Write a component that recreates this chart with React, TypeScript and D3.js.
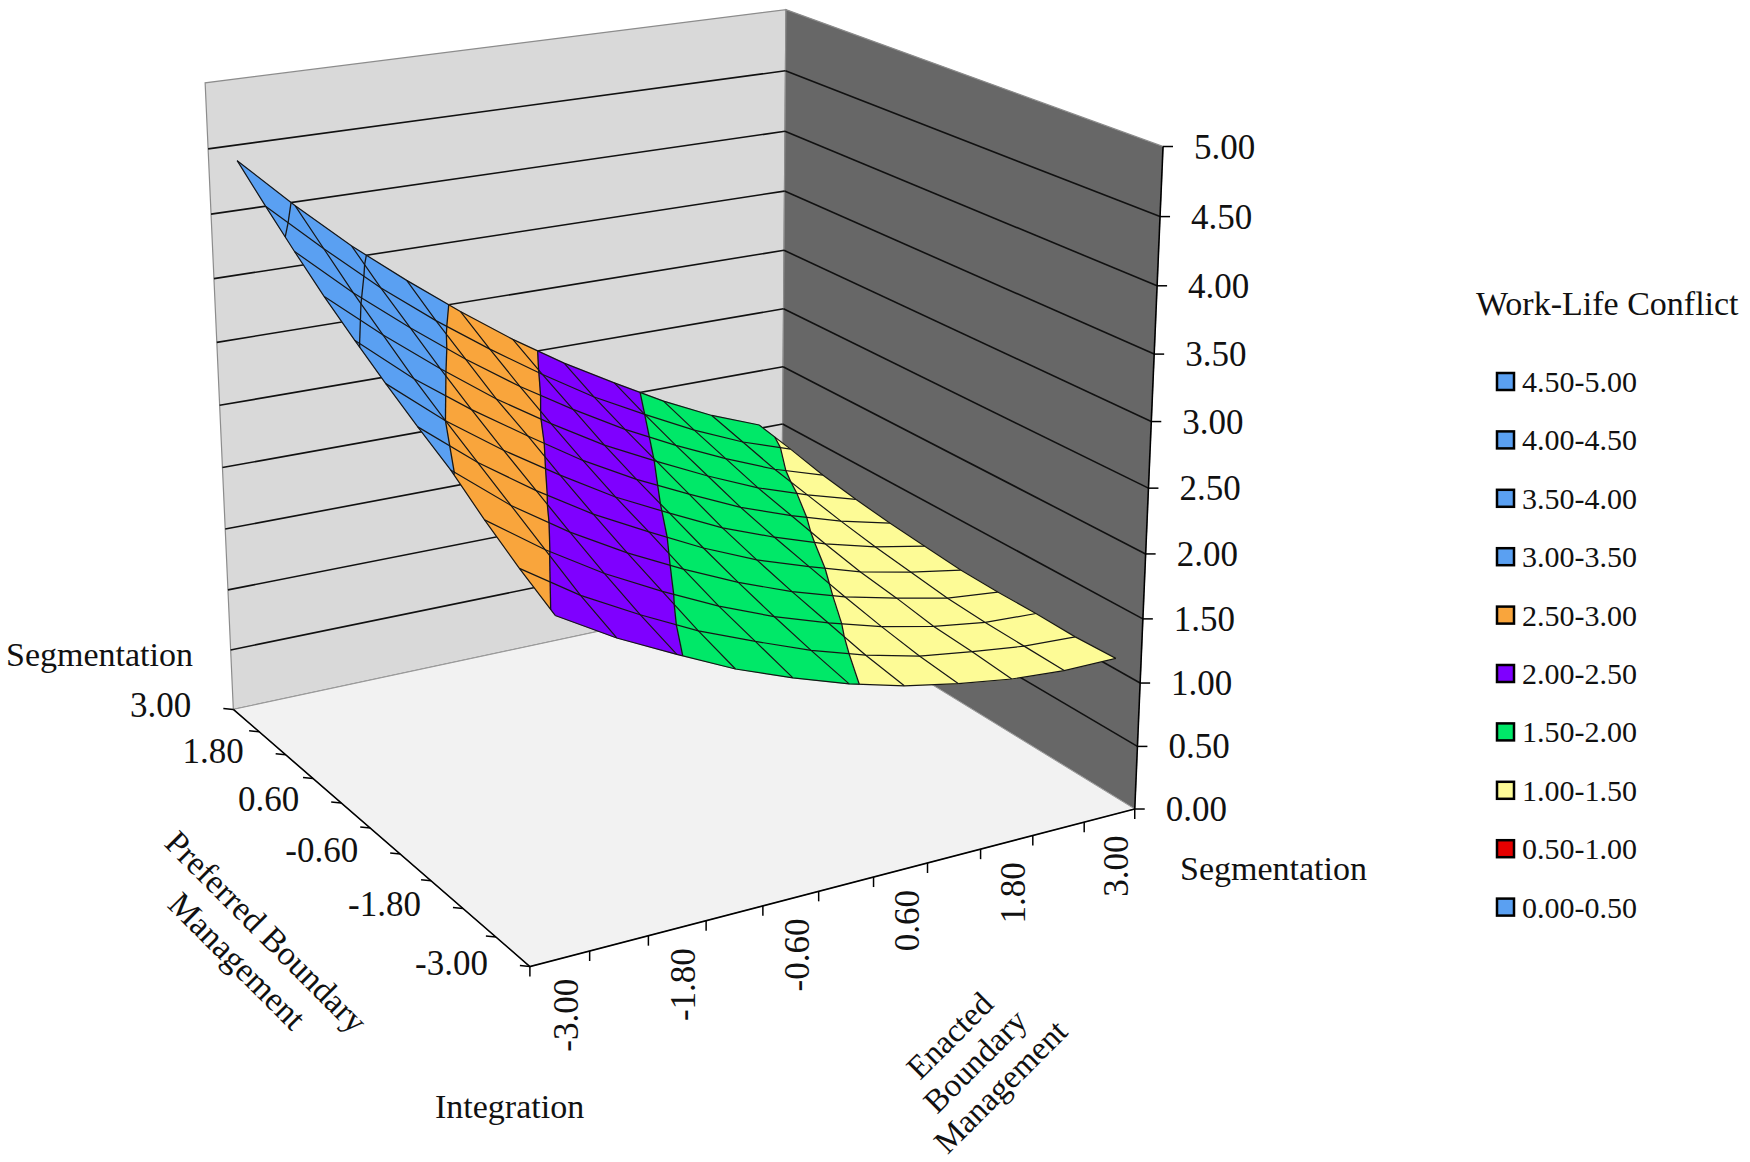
import React, { useEffect, useMemo } from 'react';
import * as d3 from 'd3';

const enactedLevels = [-3, -2.4, -1.8, -1.2, -0.6, 0, 0.6, 1.2, 1.8, 2.4, 3];
const preferredLevels = [-3, -2.4, -1.8, -1.2, -0.6, 0, 0.6, 1.2, 1.8, 2.4, 3];

// rows: preferred -3 -> 3, columns: enacted -3 -> 3
const conflict = [
  [2.48, 2.23, 2.02, 1.82, 1.66, 1.52, 1.41, 1.33, 1.27, 1.24, 1.24],
  [2.64, 2.36, 2.13, 1.92, 1.75, 1.59, 1.46, 1.36, 1.3, 1.25, 1.23],
  [2.82, 2.52, 2.26, 2.04, 1.84, 1.67, 1.53, 1.41, 1.32, 1.26, 1.24],
  [3.02, 2.68, 2.4, 2.16, 1.95, 1.76, 1.6, 1.47, 1.37, 1.28, 1.24],
  [3.18, 2.84, 2.55, 2.29, 2.07, 1.86, 1.68, 1.54, 1.41, 1.32, 1.25],
  [3.35, 3.0, 2.7, 2.43, 2.18, 1.97, 1.77, 1.61, 1.47, 1.36, 1.28],
  [3.53, 3.17, 2.86, 2.58, 2.31, 2.08, 1.88, 1.69, 1.54, 1.41, 1.31],
  [3.72, 3.36, 3.03, 2.72, 2.45, 2.2, 1.99, 1.79, 1.61, 1.47, 1.35],
  [3.93, 3.55, 3.21, 2.89, 2.6, 2.34, 2.1, 1.89, 1.7, 1.53, 1.4],
  [4.15, 3.76, 3.39, 3.06, 2.76, 2.48, 2.22, 2.0, 1.79, 1.61, 1.47],
  [4.38, 3.97, 3.59, 3.25, 2.93, 2.63, 2.36, 2.12, 1.89, 1.69, 1.53],
];

const bandLabels = ['4.50-5.00', '4.00-4.50', '3.50-4.00', '3.00-3.50', '2.50-3.00', '2.00-2.50', '1.50-2.00', '1.00-1.50', '0.50-1.00', '0.00-0.50'];
const bandFloors = [4.5, 4, 3.5, 3, 2.5, 2, 1.5, 1, 0.5, 0];
const bandColors = ['#5aa0f2', '#5aa0f2', '#5aa0f2', '#5aa0f2', '#f9a53c', '#7f00ff', '#00e868', '#fdfb96', '#e60000', '#5aa0f2'];
const conflictTicks = [0, 0.5, 1, 1.5, 2, 2.5, 3, 3.5, 4, 4.5, 5];

const W = 1750;
const H = 1162;
const FONT = "'Liberation Serif', 'Times New Roman', serif";

// where some corners of the plot box land on screen; the perspective camera is fitted to them
const calibration = [
  // axis x, axis y, z, screen x, screen y
  [-3, 3, 0, 233.3, 709.3],
  [-3, -3, 0, 530, 966.7],
  [3, -3, 0, 1135, 809.3],
  [3, -3, 5, 1163.3, 146.7],
  [-3, 3, 5, 205, 83],
  [3, 3, 5, 786, 9.3],
  [3, -3, 2, 1145, 553.3],
  [3, 3, 3, 784, 250.7],
  [-3, 3, 2, 222.5, 467.3],
];

type P3 = [number, number, number];
type P2 = [number, number];

function fitCamera(pts: number[][]) {
  const cx = 700, cy = 500, s = 500;
  const rows: number[][] = [];
  const rhs: number[] = [];
  pts.forEach(([X, Y, Z, u0, v0]) => {
    const u = (u0 - cx) / s;
    const v = (v0 - cy) / s;
    rows.push([X, Y, Z, 1, 0, 0, 0, 0, -u * X, -u * Y, -u * Z]);
    rhs.push(u);
    rows.push([0, 0, 0, 0, X, Y, Z, 1, -v * X, -v * Y, -v * Z]);
    rhs.push(v);
  });
  const n = 11;
  const m = d3.range(n).map(() => new Array(n + 1).fill(0));
  rows.forEach((r, k) => {
    for (let i = 0; i < n; i++) {
      for (let j = 0; j < n; j++) m[i][j] += r[i] * r[j];
      m[i][n] += r[i] * rhs[k];
    }
  });
  for (let c = 0; c < n; c++) {
    let piv = c;
    for (let r = c + 1; r < n; r++) if (Math.abs(m[r][c]) > Math.abs(m[piv][c])) piv = r;
    [m[c], m[piv]] = [m[piv], m[c]];
    for (let r = 0; r < n; r++) {
      if (r === c) continue;
      const f = m[r][c] / m[c][c];
      for (let k = c; k <= n; k++) m[r][k] -= f * m[c][k];
    }
  }
  const p = m.map((row, i) => row[n] / row[i]);
  const depth = (x: number, y: number, z: number) => p[8] * x + p[9] * y + p[10] * z + 1;
  const project = (x: number, y: number, z: number): P2 => {
    const w = depth(x, y, z);
    return [
      ((p[0] * x + p[1] * y + p[2] * z + p[3]) / w) * s + cx,
      ((p[4] * x + p[5] * y + p[6] * z + p[7]) / w) * s + cy,
    ];
  };
  return { project, depth };
}

// clip a polygon of surface points to lo <= value <= hi
function clipBand(poly: P3[], lo: number, hi: number): P3[] {
  const clip = (pts: P3[], inside: (v: P3) => boolean, level: number) => {
    const out: P3[] = [];
    for (let i = 0; i < pts.length; i++) {
      const a = pts[i];
      const b = pts[(i + 1) % pts.length];
      const ia = inside(a), ib = inside(b);
      if (ia) out.push(a);
      if (ia !== ib) {
        const t = (level - a[2]) / (b[2] - a[2]);
        out.push([a[0] + t * (b[0] - a[0]), a[1] + t * (b[1] - a[1]), level]);
      }
    }
    return out;
  };
  let r = clip(poly, (v) => v[2] >= lo, lo);
  if (r.length) r = clip(r, (v) => v[2] <= hi, hi);
  return r;
}

const fmt = d3
  .formatLocale({ decimal: '.', thousands: ',', grouping: [3], currency: ['', ''], minus: '-' })
  .format('.2f');

export default function App() {
  useEffect(() => {
    document.body.style.margin = '0';
  }, []);

  const cam = useMemo(() => fitCamera(calibration), []);
  const proj = (p: P3) => cam.project(p[0], p[1], p[2]);
  const line = d3.line<P2>();
  const poly = (pts: P3[]) => line(pts.map(proj)) + 'Z';
  const path = (pts: P3[]) => line(pts.map(proj)) || '';

  // enacted categories sit in the middle of slots, preferred on the ticks
  const xPos = d3.scaleLinear().domain([-0.5, enactedLevels.length - 0.5]).range([-3, 3]);
  const yPos = d3.scaleLinear().domain([0, preferredLevels.length - 1]).range([-3, 3]);

  const grid: P3[][] = preferredLevels.map((_, j) => enactedLevels.map((_, i) => [xPos(i), yPos(j), conflict[j][i]] as P3));

  const fills: { d: string; color: string; depth: number }[] = [];
  const contours: string[] = [];
  const levels = d3.range(0.5, 5, 0.5);
  for (let j = 0; j < grid.length - 1; j++) {
    for (let i = 0; i < grid[j].length - 1; i++) {
      const quad = [grid[j][i], grid[j][i + 1], grid[j + 1][i + 1], grid[j + 1][i]];
      const depth = cam.depth(d3.mean(quad, (q) => q[0])!, d3.mean(quad, (q) => q[1])!, d3.mean(quad, (q) => q[2])!);
      bandFloors.forEach((lo, b) => {
        const piece = clipBand(quad, lo, lo + 0.5);
        if (piece.length >= 3) fills.push({ d: poly(piece), color: bandColors[b], depth });
      });
      levels.forEach((L) => {
        const hits: P3[] = [];
        for (let e = 0; e < 4; e++) {
          const a = quad[e], b = quad[(e + 1) % 4];
          if ((a[2] >= L) !== (b[2] >= L)) {
            const t = (L - a[2]) / (b[2] - a[2]);
            hits.push([a[0] + t * (b[0] - a[0]), a[1] + t * (b[1] - a[1]), L]);
          }
        }
        for (let h = 0; h + 1 < hits.length; h += 2) contours.push(path([hits[h], hits[h + 1]]));
      });
    }
  }
  fills.sort((a, b) => b.depth - a.depth);

  const meshRows = grid.map((row) => path(row));
  const meshCols = enactedLevels.map((_, i) => path(grid.map((row) => row[i])));

  const backWall: P3[] = [[-3, 3, 0], [3, 3, 0], [3, 3, 5], [-3, 3, 5]];
  const sideWall: P3[] = [[3, 3, 0], [3, -3, 0], [3, -3, 5], [3, 3, 5]];
  const floor: P3[] = [[-3, -3, 0], [3, -3, 0], [3, 3, 0], [-3, 3, 0]];
  const wallLevels = conflictTicks.filter((t) => t > 0 && t < 5);

  const enactedTicks = d3.range(enactedLevels.length + 1).map((k) => proj([xPos(k - 0.5), -3, 0]));
  const preferredTicks = preferredLevels.map((_, j) => proj([-3, yPos(j), 0]));

  const legendX = 1497;
  const legendTop = 381.5;
  const legendStep = 58.4;

  return (
    <svg width={W} height={H} viewBox={`0 0 ${W} ${H}`} style={{ display: 'block', background: '#fff' }} fontFamily={FONT}>
      {/* walls and floor */}
      <path d={poly(backWall)} fill="#d9d9d9" stroke="#8c8c8c" strokeWidth={1.2} />
      <path d={poly(sideWall)} fill="#676767" stroke="#8c8c8c" strokeWidth={1.2} />
      {wallLevels.map((z) => (
        <g key={`g${z}`}>
          <path d={path([[-3, 3, z], [3, 3, z]])} stroke="#111" strokeWidth={1.6} fill="none" />
          <path d={path([[3, 3, z], [3, -3, z]])} stroke="#111" strokeWidth={1.6} fill="none" />
        </g>
      ))}
      <path d={poly(floor)} fill="#f2f2f2" stroke="#9a9a9a" strokeWidth={1} />

      {/* surface */}
      {fills.map((f, k) => (
        <path key={`f${k}`} d={f.d} fill={f.color} stroke={f.color} strokeWidth={0.6} strokeLinejoin="round" />
      ))}
      {meshRows.concat(meshCols).map((d, k) => (
        <path key={`m${k}`} d={d} fill="none" stroke="#161616" strokeWidth={1.2} />
      ))}
      {contours.map((d, k) => (
        <path key={`c${k}`} d={d} fill="none" stroke="#161616" strokeWidth={1.3} />
      ))}

      {/* axes */}
      <path d={path([[-3, 3, 0], [-3, -3, 0], [3, -3, 0]])} fill="none" stroke="#000" strokeWidth={1.6} />
      <path d={path([[3, -3, 0], [3, -3, 5]])} fill="none" stroke="#000" strokeWidth={1.6} />
      {enactedTicks.map((p, k) => (
        <line key={`et${k}`} x1={p[0]} y1={p[1]} x2={p[0]} y2={p[1] + 10} stroke="#000" strokeWidth={1.5} />
      ))}
      {preferredTicks.map((p, k) => (
        <line key={`pt${k}`} x1={p[0]} y1={p[1]} x2={p[0] - 10} y2={p[1] - 1} stroke="#000" strokeWidth={1.5} />
      ))}
      {conflictTicks.map((z) => {
        const p = proj([3, -3, z]);
        return (
          <g key={`zt${z}`}>
            <line x1={p[0]} y1={p[1]} x2={p[0] + 10} y2={p[1]} stroke="#000" strokeWidth={1.5} />
            <text x={p[0] + 31} y={p[1] + 12} fontSize={35} fill="#111">{fmt(z)}</text>
          </g>
        );
      })}
      {preferredLevels.map((v, j) => {
        if ((preferredLevels.length - 1 - j) % 2) return null;
        const p = preferredTicks[j];
        return (
          <text key={`pl${j}`} x={p[0] - 42} y={p[1] + 8} fontSize={35} textAnchor="end" fill="#111">{fmt(v)}</text>
        );
      })}
      {enactedLevels.map((v, i) => {
        if (i % 2) return null;
        const p = proj([xPos(i), -3, 0]);
        return (
          <text key={`el${i}`} transform={`translate(${p[0] + 18},${p[1] + 20}) rotate(-90)`} fontSize={35} textAnchor="end" fill="#111">{fmt(v)}</text>
        );
      })}

      {/* axis titles */}
      <text x={6} y={666} fontSize={34} fill="#111">Segmentation</text>
      <text x={1180} y={880} fontSize={34} fill="#111">Segmentation</text>
      <text x={435} y={1118} fontSize={34} fill="#111">Integration</text>
      <g transform="translate(251,947) rotate(45)" fontSize={34} fill="#111" textAnchor="middle">
        <text y={-10}>Preferred Boundary</text>
        <text y={31}>Management</text>
      </g>
      <g transform="translate(978,1064) rotate(-45)" fontSize={33} fill="#111" textAnchor="middle">
        <text y={-29}>Enacted</text>
        <text y={7}>Boundary</text>
        <text y={43}>Management</text>
      </g>

      {/* legend */}
      <text x={1476} y={315} fontSize={34} fill="#111">Work-Life Conflict</text>
      {bandLabels.map((lab, k) => {
        const cy = legendTop + k * legendStep;
        return (
          <g key={lab}>
            <rect x={legendX} y={cy - 8.5} width={17} height={17} fill={bandColors[k]} stroke="#000" strokeWidth={2.5} />
            <text x={legendX + 25} y={cy + 10.5} fontSize={30} fill="#111">{lab}</text>
          </g>
        );
      })}
    </svg>
  );
}
